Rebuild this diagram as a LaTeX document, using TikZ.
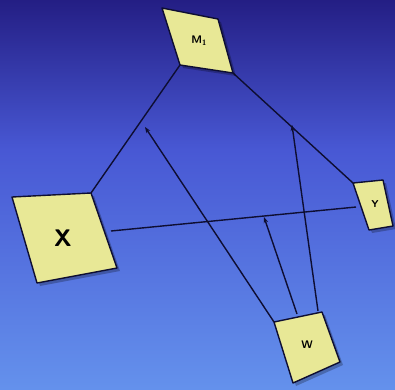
\documentclass[tikz,border=0pt]{standalone}
\usetikzlibrary{arrows.meta}
\definecolor{bgtop}{RGB}{36,30,132}
\definecolor{bgmid}{RGB}{72,88,212}
\definecolor{bgbot}{RGB}{100,145,236}
\definecolor{boxfill}{RGB}{232,232,150}
\definecolor{ink}{RGB}{14,14,50}
\tikzset{
  boxshape/.style={fill=boxfill, draw=ink, line width=1.4pt, line join=round},
  boxshadow/.style={fill=black, opacity=0.25},
  conn/.style={draw=ink, line width=1.4pt},
  arr/.style={conn, -{Stealth[length=6pt,width=4.5pt]}},
  lab/.style={font=\sffamily\bfseries, text=black, inner sep=0pt}
}
\begin{document}
\begin{tikzpicture}[x=1pt,y=-1pt]
\useasboundingbox (0,0) rectangle (395,389);
% background
\shade[top color=bgtop, bottom color=bgmid] (0,0) rectangle (395,150);
\shade[top color=bgmid, bottom color=bgbot] (0,150) rectangle (395,389);

% corners
\coordinate (Ma) at (162,8);   \coordinate (Mb) at (218,19);
\coordinate (Mc) at (233,73);  \coordinate (Md) at (180,65);
\coordinate (Xa) at (12,197);  \coordinate (Xb) at (91,193);
\coordinate (Xc) at (117,268); \coordinate (Xd) at (37,283);
\coordinate (Ya) at (353,183); \coordinate (Yb) at (383,180);
\coordinate (Yc) at (393,226); \coordinate (Yd) at (369,230);
\coordinate (Wa) at (274,322); \coordinate (Wb) at (322,312);
\coordinate (Wc) at (340,362); \coordinate (Wd) at (293,383);

% connector ends
\coordinate (Xr) at (111,231);
\coordinate (Yl) at (356,207);
\coordinate (Wt) at (297,314);
\coordinate (Wtr) at (318,311);
\coordinate (t1) at (145,127);
\coordinate (t2) at (264,217);
\coordinate (t3) at (292,125);

% connectors
\draw[conn] (Xb) -- (Md);
\draw[conn] (Mc) -- (Ya);
\draw[conn] (Xr) -- (Yl);
\draw[arr] (Wa) -- (t1);
\draw[arr] (Wt) -- (t2);
\draw[arr] (Wtr) -- (t3);

% shadows
\fill[boxshadow] ([shift={(3,3)}]Ma) -- ([shift={(3,3)}]Mb) -- ([shift={(3,3)}]Mc) -- ([shift={(3,3)}]Md) -- cycle;
\fill[boxshadow] ([shift={(3,3)}]Xa) -- ([shift={(3,3)}]Xb) -- ([shift={(3,3)}]Xc) -- ([shift={(3,3)}]Xd) -- cycle;
\fill[boxshadow] ([shift={(3,3)}]Ya) -- ([shift={(3,3)}]Yb) -- ([shift={(3,3)}]Yc) -- ([shift={(3,3)}]Yd) -- cycle;
\fill[boxshadow] ([shift={(3,3)}]Wa) -- ([shift={(3,3)}]Wb) -- ([shift={(3,3)}]Wc) -- ([shift={(3,3)}]Wd) -- cycle;

% boxes
\draw[boxshape] (Ma) -- (Mb) -- (Mc) -- (Md) -- cycle;
\draw[boxshape] (Xa) -- (Xb) -- (Xc) -- (Xd) -- cycle;
\draw[boxshape] (Ya) -- (Yb) -- (Yc) -- (Yd) -- cycle;
\draw[boxshape] (Wa) -- (Wb) -- (Wc) -- (Wd) -- cycle;

% labels
\node[lab, font=\sffamily\bfseries\fontsize{11}{12}\selectfont] (M) at (199,41) {M\textsubscript{1}};
\node[lab, font=\sffamily\bfseries\fontsize{24}{26}\selectfont] (X) at (63,238) {X};
\node[lab, font=\sffamily\bfseries\fontsize{10}{12}\selectfont] (Y) at (375,204) {Y};
\node[lab, font=\sffamily\bfseries\fontsize{11}{12}\selectfont] (W) at (307,345) {W};
\end{tikzpicture}
\end{document}
